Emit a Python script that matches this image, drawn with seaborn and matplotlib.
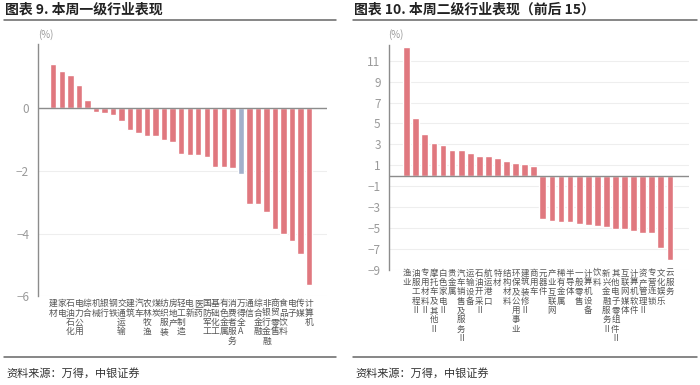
import matplotlib
matplotlib.use("Agg")
import matplotlib.pyplot as plt
from matplotlib.lines import Line2D
import seaborn as sns
import pandas as pd

sns.set_theme(style="white")
plt.rcParams["font.family"] = ["Noto Sans CJK SC", "DejaVu Sans"]
plt.rcParams["axes.unicode_minus"] = True

# ── data ─────────────────────────────────────────────────────────────────────
l1_names = ["建材", "家电", "石油石化", "电力公用", "综合", "机械", "银行", "钢铁",
            "交通运输", "建筑", "汽车", "农林牧渔", "煤炭", "纺织服装", "房地产",
            "轻工制造", "电新", "医药", "国防军工", "基础化工", "有色金属",
            "消费者服务", "万得全A", "通信", "综合金融", "非银行金融", "商贸零售",
            "食品饮料", "电子", "传媒", "计算机"]
l1_values = [1.40, 1.19, 1.06, 0.73, 0.26, -0.13, -0.16, -0.23, -0.41, -0.68,
             -0.78, -0.87, -0.89, -1.02, -1.06, -1.46, -1.49, -1.50, -1.55, -1.86,
             -1.86, -1.92, -2.10, -3.04, -3.04, -3.30, -3.86, -4.00, -4.23, -4.65,
             -5.64]
l1_highlight = "万得全A"

l2_names = ["渔业", "油服工程Ⅱ", "专用材料Ⅱ", "摩托车及其他Ⅱ", "白色家电Ⅱ", "贵金属",
            "汽车销售及服务Ⅱ", "运输设备", "石油开采Ⅱ", "航运港口", "特材", "结构材料",
            "环保及公用事业", "建筑装修Ⅱ", "商用车", "元器件", "产业互联网", "稀有金属",
            "半导体", "一般零售", "计算机设备", "饮料", "新兴金融服务Ⅱ",
            "其他电子零组件Ⅱ", "互联网媒体", "计算机软件", "资产管理Ⅱ", "专营连锁",
            "文化娱乐", "云服务"]
l2_values = [12.35, 5.51, 4.04, 3.12, 2.96, 2.48, 2.42, 2.17, 1.88, 1.85, 1.72,
             1.40, 1.21, 1.11, 0.96, -4.17, -4.30, -4.37, -4.46, -4.62, -4.69,
             -4.81, -4.88, -5.04, -5.07, -5.26, -5.42, -5.49, -6.90, -8.05]

RED, BLUE = "#E0787F", "#A2B0CB"
GRID, AXIS, TICK, LABEL = "#EEEEEE", "#8C8C8C", "#9A9A9A", "#555555"

W, H = 700, 385
fig = plt.figure(figsize=(W / 100, H / 100), dpi=100)


def px_axes(x0, x1, y_top, y_bot):
    return fig.add_axes([x0 / W, 1 - y_bot / H, (x1 - x0) / W, (y_bot - y_top) / H])


def draw(ax, names, values, palette, xlim, ylim, yticks, fs, pad):
    df = pd.DataFrame({"name": names, "value": values})
    sns.barplot(data=df, x="name", y="value", hue="name", palette=palette,
                legend=False, width=0.75, saturation=1, ax=ax, zorder=2)
    ax.set_xlim(*xlim); ax.set_ylim(*ylim)
    ax.axhline(0, color=AXIS, lw=1.0, zorder=3)
    ax.set_yticks(yticks)
    ax.yaxis.grid(True, color=GRID, lw=0.8); ax.set_axisbelow(True)
    ax.set_xticks(range(len(names)))
    ax.set_xticklabels(["\n".join(n) for n in names], fontsize=fs, color=LABEL,
                       linespacing=1.05, va="top")
    ax.tick_params(axis="x", length=0, pad=pad)
    ax.tick_params(axis="y", length=3, width=0.8, color=AXIS, labelsize=8.5,
                   labelcolor=TICK, pad=3)
    ax.spines[["top", "right", "bottom"]].set_visible(False)
    ax.spines["left"].set_color(AXIS); ax.spines["left"].set_linewidth(1.0)
    ax.set_xlabel(""); ax.set_ylabel("")
    ax.set_facecolor("white")


# ── left: 一级行业 ───────────────────────────────────────────────────────────
ax1 = px_axes(37.5, 327, 44, 296.4)
pal1 = {n: (BLUE if n == l1_highlight else RED) for n in l1_names}
draw(ax1, l1_names, l1_values, pal1, (-1.85, 32.1), (-6, 2.05),
     [0, -2, -4, -6], 6.3, 2)

# ── right: 二级行业（前后15） ─────────────────────────────────────────────────
ax2 = px_axes(389, 689, 45, 270)
pal2 = {n: RED for n in l2_names}
draw(ax2, l2_names, l2_values, pal2, (-1.95, 31.1), (-9, 12.5),
     list(range(11, -10, -2)), 6.1, -1)

# ── titles, rules, source ────────────────────────────────────────────────────
for x0, x1, title in [(4, 336, "图表 9. 本周一级行业表现"),
                      (353, 697, "图表 10. 本周二级行业表现（前后 15）")]:
    fig.text((x0 + 1) / W, 1 - 10 / H, title, fontsize=10, fontweight="bold",
             color="#222222", va="center", ha="left")
    fig.add_artist(Line2D([x0 / W, x1 / W], [1 - 19.5 / H] * 2, color="#666666", lw=1.1))
    fig.add_artist(Line2D([x0 / W, x1 / W], [1 - 357 / H] * 2, color="#666666", lw=1.1))
    fig.text((x0 + 2) / W, 1 - 373 / H, "资料来源：万得，中银证券", fontsize=8,
             color="#333333", va="center", ha="left")

fig.text(38 / W, 1 - 35 / H, "(%)", fontsize=7, color=TICK, ha="left", va="center")
fig.text(388 / W, 1 - 35 / H, "(%)", fontsize=7, color=TICK, ha="left", va="center")

fig.savefig("out.png", dpi=100)
